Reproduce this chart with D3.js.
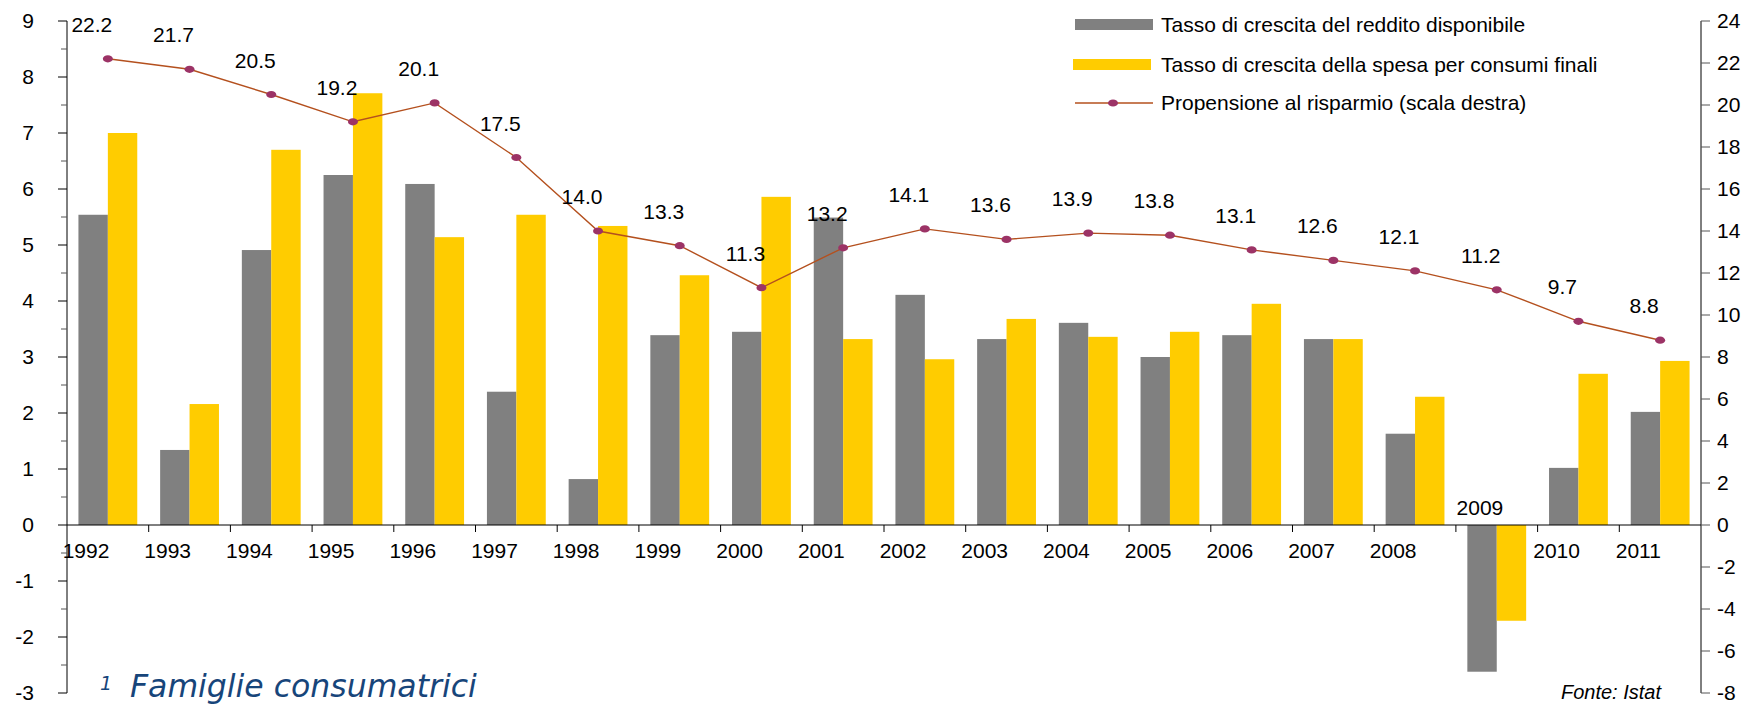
<!DOCTYPE html>
<html>
<head>
<meta charset="utf-8">
<script src="https://cdn.jsdelivr.net/npm/d3@7"></script>
<style>
  body { margin: 0; background: #fff; }
  svg { display: block; font-family: "Liberation Sans", Arial, sans-serif; }
</style>
</head>
<body>
<div id="chart"></div>
<script>
/* Reddito disponibile, consumi e propensione al risparmio delle famiglie consumatrici */

var years = ["1992", "1993", "1994", "1995", "1996", "1997", "1998", "1999", "2000", "2001",
             "2002", "2003", "2004", "2005", "2006", "2007", "2008", "2009", "2010", "2011"];
var reddito = [5.54, 1.34, 4.91, 6.25, 6.09, 2.38, 0.82, 3.39, 3.45, 5.49,
               4.11, 3.32, 3.61, 3.00, 3.39, 3.32, 1.63, -2.62, 1.02, 2.02];
var consumi = [7.00, 2.16, 6.70, 7.71, 5.14, 5.54, 5.34, 4.46, 5.86, 3.32,
               2.96, 3.68, 3.36, 3.45, 3.95, 3.32, 2.29, -1.71, 2.70, 2.93];
var risparmio = [22.2, 21.7, 20.5, 19.2, 20.1, 17.5, 14.0, 13.3, 11.3, 13.2,
                 14.1, 13.6, 13.9, 13.8, 13.1, 12.6, 12.1, 11.2, 9.7, 8.8];

var leftTicks = [-3, -2, -1, 0, 1, 2, 3, 4, 5, 6, 7, 8, 9];
var rightTicks = [-8, -6, -4, -2, 0, 2, 4, 6, 8, 10, 12, 14, 16, 18, 20, 22, 24];
var seriesNames = ["Tasso di crescita del reddito disponibile",
                   "Tasso di crescita della spesa per consumi finali",
                   "Propensione al risparmio (scala destra)"];

var width = 1748, height = 704;
var margin = {top: 21, right: 47, bottom: 11, left: 67};

var grey = "#808080", yellow = "#FFCC00", lineCol = "#B4501E", dotCol = "#9C3366";
var fs = "21px";

var svg = d3.select("#chart").append("svg")
    .attr("width", width)
    .attr("height", height);

var x = d3.scaleBand()
    .domain(years)
    .range([margin.left, width - margin.right])
    .padding(0);

var yL = d3.scaleLinear().domain([-3, 9]).range([height - margin.bottom, margin.top]);
var yR = d3.scaleLinear().domain([-8, 24]).range([height - margin.bottom, margin.top]);

var bw = x.bandwidth() * 0.36;
function cx(d) { return x(d) + x.bandwidth() / 2; }

// bars
var bars = svg.append("g").attr("class", "bars");
bars.selectAll("rect.red")
    .data(years)
    .enter().append("rect")
    .attr("class", "red")
    .attr("x", function(d) { return cx(d) - bw; })
    .attr("y", function(d, i) { return yL(Math.max(0, reddito[i])); })
    .attr("width", bw)
    .attr("height", function(d, i) { return Math.abs(yL(reddito[i]) - yL(0)); })
    .style("fill", grey);

bars.selectAll("rect.con")
    .data(years)
    .enter().append("rect")
    .attr("class", "con")
    .attr("x", function(d) { return cx(d); })
    .attr("y", function(d, i) { return yL(Math.max(0, consumi[i])); })
    .attr("width", bw)
    .attr("height", function(d, i) { return Math.abs(yL(consumi[i]) - yL(0)); })
    .style("fill", yellow);

// left axis
var gl = svg.append("g").attr("transform", "translate(" + margin.left + ",0)");
gl.append("line")
    .attr("y1", yL(9)).attr("y2", yL(-3))
    .style("stroke", "#000");
gl.selectAll("line.major")
    .data(leftTicks)
    .enter().append("line")
    .attr("x1", -9).attr("x2", 0)
    .attr("y1", function(d) { return yL(d); })
    .attr("y2", function(d) { return yL(d); })
    .style("stroke", "#000");
gl.selectAll("line.minor")
    .data(leftTicks.slice(0, -1))
    .enter().append("line")
    .attr("x1", -6).attr("x2", 0)
    .attr("y1", function(d) { return yL(d + 0.5); })
    .attr("y2", function(d) { return yL(d + 0.5); })
    .style("stroke", "#555");
gl.selectAll("text")
    .data(leftTicks)
    .enter().append("text")
    .attr("x", -33)
    .attr("y", function(d) { return yL(d); })
    .attr("dy", "0.35em")
    .attr("text-anchor", "end")
    .style("font-size", fs)
    .text(function(d) { return d; });

// right axis
var gr = svg.append("g").attr("transform", "translate(" + (width - margin.right) + ",0)");
gr.append("line")
    .attr("y1", yR(24)).attr("y2", yR(-8))
    .style("stroke", "#000");
gr.selectAll("line.tick")
    .data(rightTicks)
    .enter().append("line")
    .attr("x1", 0).attr("x2", 9)
    .attr("y1", function(d) { return yR(d); })
    .attr("y2", function(d) { return yR(d); })
    .style("stroke", "#555");
gr.selectAll("text")
    .data(rightTicks)
    .enter().append("text")
    .attr("x", 16)
    .attr("y", function(d) { return yR(d); })
    .attr("dy", "0.35em")
    .style("font-size", fs)
    .text(function(d) { return d; });

// x axis at zero
var gx = svg.append("g");
gx.append("line")
    .attr("x1", margin.left).attr("x2", width - margin.right)
    .attr("y1", yL(0)).attr("y2", yL(0))
    .style("stroke", "#000");
gx.selectAll("line.tick")
    .data(years.slice(1))
    .enter().append("line")
    .attr("x1", function(d) { return x(d); })
    .attr("x2", function(d) { return x(d); })
    .attr("y1", yL(0)).attr("y2", yL(0) + 7)
    .style("stroke", "#000");
gx.selectAll("text")
    .data(years)
    .enter().append("text")
    .attr("x", function(d, i) { return x(d) + (reddito[i] < 0 ? 24 : 19); })
    .attr("y", function(d, i) { return reddito[i] < 0 ? yL(0) - 10 : yL(0) + 33; })
    .attr("text-anchor", "middle")
    .style("font-size", fs)
    .text(function(d) { return d; });

// saving line
var line = d3.line()
    .x(function(d, i) { return cx(years[i]); })
    .y(function(d) { return yR(d); });

svg.append("path")
    .datum(risparmio)
    .attr("d", line)
    .style("fill", "none")
    .style("stroke", lineCol)
    .style("stroke-width", 1.4);

svg.selectAll("ellipse.dot")
    .data(risparmio)
    .enter().append("ellipse")
    .attr("class", "dot")
    .attr("cx", function(d, i) { return cx(years[i]); })
    .attr("cy", function(d) { return yR(d); })
    .attr("rx", 5).attr("ry", 3.6)
    .style("fill", dotCol);

svg.selectAll("text.lab")
    .data(risparmio)
    .enter().append("text")
    .attr("class", "lab")
    .attr("x", function(d, i) { return cx(years[i]) - 16; })
    .attr("y", function(d) { return yR(d) - 27; })
    .attr("text-anchor", "middle")
    .style("font-size", fs)
    .text(function(d) { return d.toFixed(1); });

// legend
var lg = svg.append("g").attr("transform", "translate(1075,0)");
var legY = [24.5, 64.5, 103];
lg.append("rect").attr("x", 0).attr("y", legY[0] - 5.5).attr("width", 78).attr("height", 11).style("fill", grey);
lg.append("rect").attr("x", -2).attr("y", legY[1] - 5.5).attr("width", 78).attr("height", 11).style("fill", yellow);
lg.append("line").attr("x1", 0).attr("x2", 78).attr("y1", legY[2]).attr("y2", legY[2])
    .style("stroke", lineCol).style("stroke-width", 1.4);
lg.append("ellipse").attr("cx", 38).attr("cy", legY[2]).attr("rx", 5).attr("ry", 3.6).style("fill", dotCol);
lg.selectAll("text")
    .data(seriesNames)
    .enter().append("text")
    .attr("x", 86)
    .attr("y", function(d, i) { return legY[i]; })
    .attr("dy", "0.35em")
    .style("font-size", fs)
    .text(function(d) { return d; });

// notes
svg.append("text")
    .attr("x", 100).attr("y", 690)
    .style("font-family", "'DejaVu Sans', Verdana, sans-serif")
    .style("font-style", "italic")
    .style("font-size", "19px")
    .style("fill", "#17457a")
    .text("1");
svg.append("text")
    .attr("x", 130).attr("y", 697)
    .style("font-family", "'DejaVu Sans', Verdana, sans-serif")
    .style("font-style", "italic")
    .style("font-size", "31.5px")
    .style("fill", "#17457a")
    .text("Famiglie consumatrici");
svg.append("text")
    .attr("x", 1661).attr("y", 699)
    .attr("text-anchor", "end")
    .style("font-style", "italic")
    .style("font-size", "20px")
    .text("Fonte: Istat");
</script>
</body>
</html>
